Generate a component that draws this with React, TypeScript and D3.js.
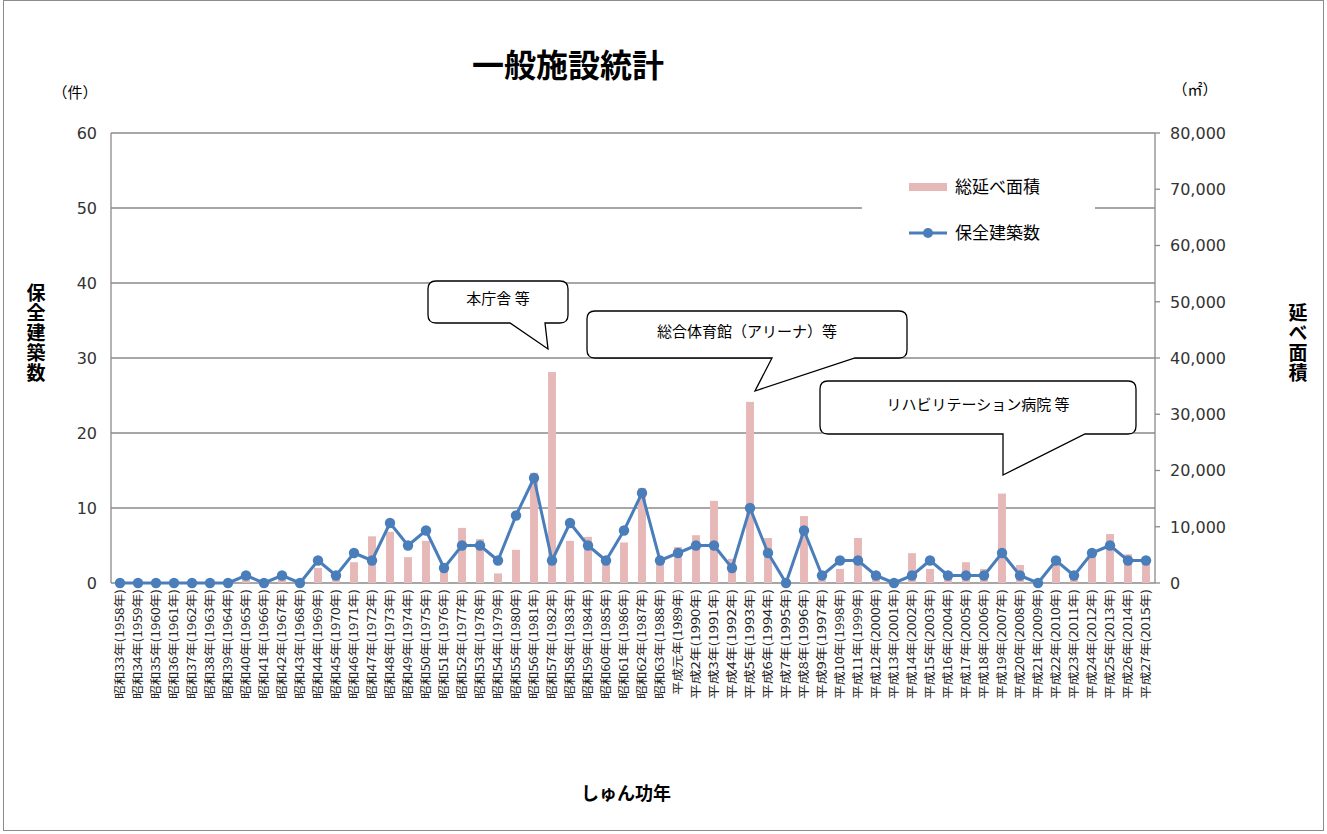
import React from "react";
import * as d3 from "d3";

const years: number[] = d3.range(1958, 2016);
const eraLabels: string[] = years.map((y) => {
  if (y <= 1988) return `昭和${y - 1925}年(${y}年)`;
  if (y === 1989) return `平成元年(${y}年)`;
  return `平成${y - 1988}年(${y}年)`;
});

const buildingCounts: number[] = [
  0, 0, 0, 0, 0, 0, 0, 1, 0, 1, 0, 3, 1, 4, 3, 8, 5, 7, 2, 5,
  5, 3, 9, 14, 3, 8, 5, 3, 7, 12, 3, 4, 5, 5, 2, 10, 4, 0, 7, 1,
  3, 3, 1, 0, 1, 3, 1, 1, 1, 4, 1, 0, 3, 1, 4, 5, 3, 3,
];

const floorAreas: number[] = [
  0, 0, 0, 0, 0, 0, 0, 1000, 0, 700, 0, 2700, 900, 3700, 8300, 9100, 4600, 7500, 2500, 9800,
  7800, 1700, 5900, 19600, 37500, 7500, 8200, 3300, 7200, 16900, 3500, 6400, 8500, 14600, 4300, 32200, 8000, 0, 11900, 500,
  2500, 8000, 800, 0, 5300, 2500, 900, 3700, 2500, 15900, 3200, 0, 3500, 1400, 5600, 8700, 5100, 4000,
];

const leftTicks: number[] = [0, 10, 20, 30, 40, 50, 60];
const rightTicks: number[] = [0, 10000, 20000, 30000, 40000, 50000, 60000, 70000, 80000];

const callouts = [
  { text: "本庁舎 等", box: [428, 281, 568, 323], base: [510, 545], tip: [548, 349] },
  { text: "総合体育館（アリーナ）等", box: [587, 311, 907, 358], base: [772, 855], tip: [755, 391] },
  { text: "リハビリテーション病院 等", box: [820, 381, 1136, 434], base: [1003, 1085], tip: [1003, 475] },
];

const FONT = "'Noto Sans CJK JP', 'Noto Sans', sans-serif";

function calloutPath(c: typeof callouts[number]): string {
  const [x0, y0, x1, y1] = c.box;
  const r = 8;
  const [b0, b1] = c.base;
  const [tx, ty] = c.tip;
  return [
    `M${x0 + r},${y0}`,
    `H${x1 - r}`,
    `Q${x1},${y0} ${x1},${y0 + r}`,
    `V${y1 - r}`,
    `Q${x1},${y1} ${x1 - r},${y1}`,
    `H${b1}`,
    `L${tx},${ty}`,
    `L${b0},${y1}`,
    `H${x0 + r}`,
    `Q${x0},${y1} ${x0},${y1 - r}`,
    `V${y0 + r}`,
    `Q${x0},${y0} ${x0 + r},${y0}`,
    "Z",
  ].join(" ");
}

export default function App() {
  const W = 1327;
  const H = 834;
  const left = 111;
  const right = 1155;
  const top = 133;
  const bottom = 583;

  const x = d3.scaleBand<number>().domain(years).range([left, right]).paddingInner(0.56).paddingOuter(0.28);
  const xc = (y: number) => (x(y) as number) + x.bandwidth() / 2;
  const yL = d3.scaleLinear().domain([0, 60]).range([bottom, top]);
  const yR = d3.scaleLinear().domain([0, 80000]).range([bottom, top]);

  const line = d3
    .line<number>()
    .x((_, i) => xc(years[i]))
    .y((d) => yL(d));

  const fmt = d3.format(",");
  const gridColor = "#8a8a8a";
  const barColor = "#E6B9B8";
  const lineColor = "#4A7EBB";

  return (
    <div style={{ position: "absolute", left: 0, top: 0 }}>
      <svg width={W} height={H} style={{ display: "block", fontFamily: FONT }}>
        <rect x={0} y={0} width={W} height={H} fill="#fff" />
        <rect x={3.5} y={0.5} width={1320} height={830} fill="none" stroke="#8c8c8c" strokeWidth={1} />

        {/* Title */}
        <text x={568} y={77} textAnchor="middle" fontSize={32} fontWeight="bold" fill="#000">
          一般施設統計
        </text>

        {/* Units */}
        <text x={75} y={98} textAnchor="middle" fontSize={15} fill="#000">（件）</text>
        <text x={1195} y={95} textAnchor="middle" fontSize={15} fill="#000">（㎡）</text>

        {/* Gridlines */}
        {leftTicks.map((t) => (
          <line key={"g" + t} x1={left} x2={right} y1={yL(t)} y2={yL(t)} stroke={gridColor} strokeWidth={1.3} />
        ))}
        {/* Axes */}
        <line x1={left} x2={left} y1={top} y2={bottom} stroke={gridColor} strokeWidth={1.3} />
        <line x1={right} x2={right} y1={top} y2={bottom} stroke={gridColor} strokeWidth={1.3} />
        {rightTicks.map((t) => (
          <line key={"rt" + t} x1={right} x2={right + 5} y1={yR(t)} y2={yR(t)} stroke={gridColor} strokeWidth={1.3} />
        ))}

        {/* Left tick labels */}
        {leftTicks.map((t) => (
          <text key={"lt" + t} x={97} y={yL(t)} dy="0.36em" textAnchor="end" fontSize={16} fill="#333" fontFamily="'DejaVu Sans', sans-serif">
            {t}
          </text>
        ))}
        {/* Right tick labels */}
        {rightTicks.map((t) => (
          <text key={"rl" + t} x={1170} y={yR(t)} dy="0.36em" textAnchor="start" fontSize={16} fill="#333" fontFamily="'DejaVu Sans', sans-serif">
            {fmt(t)}
          </text>
        ))}

        {/* Bars */}
        {floorAreas.map((v, i) => (
          <rect key={"b" + i} x={x(years[i])} y={yR(v)} width={x.bandwidth()} height={bottom - yR(v)} fill={barColor} />
        ))}

        {/* Line */}
        <path d={line(buildingCounts) || ""} fill="none" stroke={lineColor} strokeWidth={3} strokeLinejoin="round" />
        {buildingCounts.map((v, i) => (
          <circle key={"c" + i} cx={xc(years[i])} cy={yL(v)} r={5.2} fill={lineColor} />
        ))}

        {/* X labels */}
        {eraLabels.map((lab, i) => (
          <text
            key={"xl" + i}
            transform={`translate(${xc(years[i])},589) rotate(-90)`}
            textAnchor="end"
            dy="0.35em"
            fontSize={11.5}
            fill="#222"
            textLength={lab.startsWith("平成元") ? 106 : 110}
            lengthAdjust="spacingAndGlyphs"
          >
            {lab}
          </text>
        ))}

        {/* Legend */}
        <rect x={862} y={160} width={233} height={95} fill="#fff" />
        <rect x={909} y={183} width={38} height={8} fill={barColor} />
        <text x={955} y={187} dy="0.36em" fontSize={17} fill="#000">総延べ面積</text>
        <line x1={909} x2={947} y1={233} y2={233} stroke={lineColor} strokeWidth={3} />
        <circle cx={928} cy={233} r={5} fill={lineColor} />
        <text x={955} y={233} dy="0.36em" fontSize={17} fill="#000">保全建築数</text>

        {/* Callouts */}
        {callouts.map((c, i) => (
          <g key={"co" + i}>
            <path d={calloutPath(c)} fill="#fff" stroke="#000" strokeWidth={1.3} />
            <text x={(c.box[0] + c.box[2]) / 2} y={(c.box[1] + c.box[3]) / 2 - 3} dy="0.36em" textAnchor="middle" fontSize={15} fill="#000">
              {c.text}
            </text>
          </g>
        ))}

        {/* Axis titles */}
        <text
          x={36}
          y={283}
          fontSize={19}
          fontWeight="bold"
          fill="#000"
          style={{ writingMode: "vertical-rl", textOrientation: "upright", letterSpacing: "1px" } as React.CSSProperties}
        >
          保全建築数
        </text>
        <text
          x={1298}
          y={303}
          fontSize={19}
          fontWeight="bold"
          fill="#000"
          style={{ writingMode: "vertical-rl", textOrientation: "upright", letterSpacing: "1px" } as React.CSSProperties}
        >
          延べ面積
        </text>
        <text x={626} y={794} textAnchor="middle" dy="0.36em" fontSize={18} fontWeight="bold" fill="#000">
          しゅん功年
        </text>
      </svg>
    </div>
  );
}
